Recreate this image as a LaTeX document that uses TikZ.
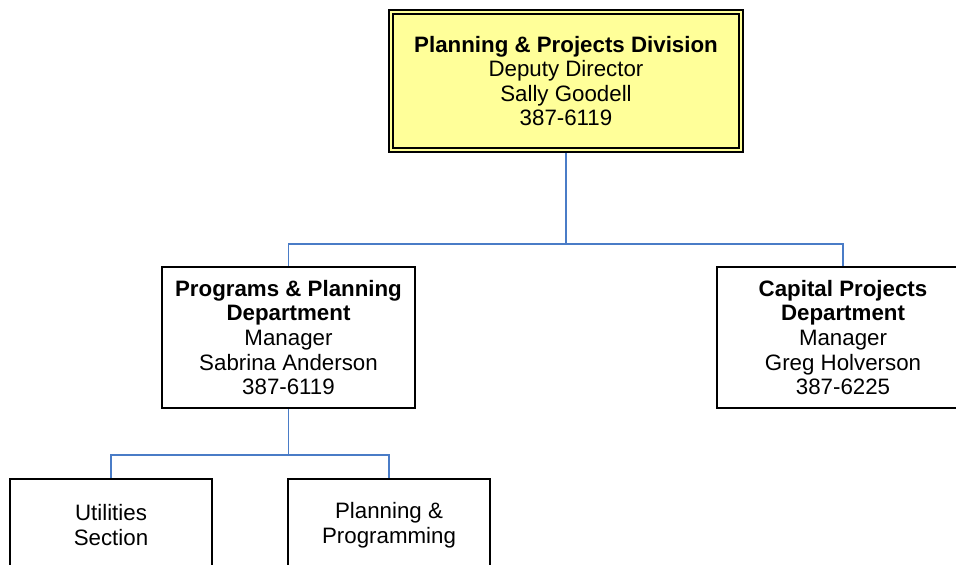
\documentclass[tikz,border=0pt]{standalone}
\usepackage{fontspec}
\setmainfont{Liberation Sans}
\definecolor{boxyellow}{HTML}{FFFF99}
\definecolor{connblue}{HTML}{4A7CC7}
\begin{document}
\begin{tikzpicture}[x=1pt,y=-1pt,
  orgbox/.style={draw=black,line width=1.6pt,rectangle,align=center,
    inner sep=0pt,font=\fontsize{22.3}{24.6}\selectfont},
  topbox/.style={orgbox,fill=boxyellow,line width=2pt},
  conn/.style={draw=connblue,line width=1.7pt}]
\useasboundingbox (0,0) rectangle (956,565);
\node[topbox,minimum width=354pt,minimum height=142pt] (div) at (566,81)
  {\textbf{Planning \& Projects Division}\\Deputy Director\\Sally Goodell\\387-6119};
\draw[line width=1.4pt] ([shift={(5,5)}]div.north west) rectangle ([shift={(-5,-5)}]div.south east);
\node[orgbox,minimum width=253pt,minimum height=141pt] (prog) at (288.5,337.5)
  {\textbf{Programs \& Planning}\\\textbf{Department}\\Manager\\Sabrina Anderson\\387-6119};
\node[orgbox,minimum width=252pt,minimum height=141pt] (cap) at (843,337.5)
  {\textbf{Capital Projects}\\\textbf{Department}\\Manager\\Greg Holverson\\387-6225};
\node[orgbox,minimum width=202pt,minimum height=92pt] (util) at (111,525)
  {Utilities\\Section};
\node[orgbox,minimum width=202pt,minimum height=92pt] (plan) at (389,525)
  {Planning \&\\Programming};
\coordinate (j1) at (566,244);
\coordinate (j2) at (288.5,455);
\draw[conn] (div.south) -- (j1);
\draw[conn] (j1) -| (prog.north);
\draw[conn] (j1) -| (cap.north);
\draw[conn] (prog.south) -- (j2);
\draw[conn] (j2) -| (util.north);
\draw[conn] (j2) -| (plan.north);
\end{tikzpicture}
\end{document}
